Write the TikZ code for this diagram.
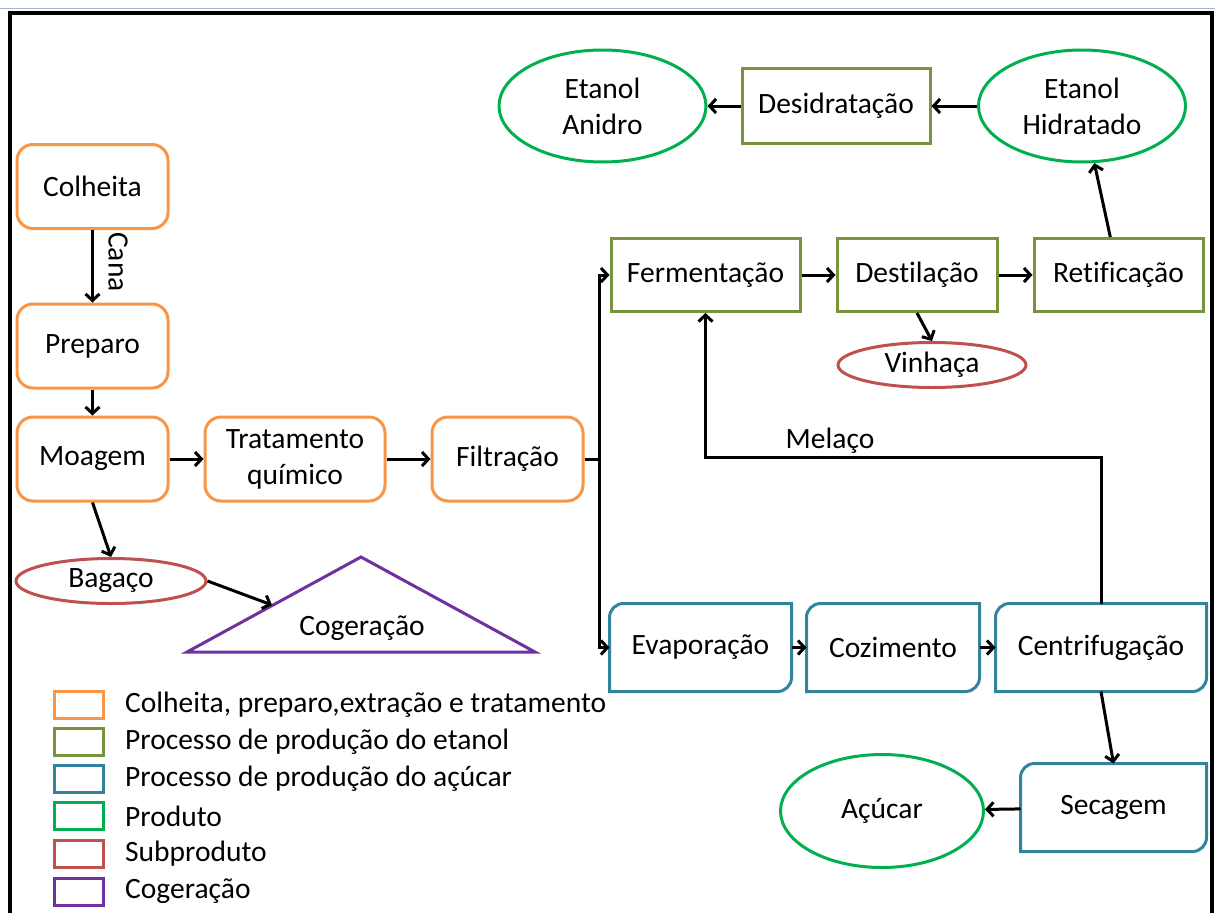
\documentclass[tikz,border=0pt]{standalone}
\usepackage{fontspec}
\setmainfont{Carlito}[Ligatures=NoCommon]
\usetikzlibrary{arrows.meta,shapes.geometric,calc}
\definecolor{cOr}{HTML}{F79646}
\definecolor{cOl}{HTML}{77933C}
\definecolor{cBl}{HTML}{31849B}
\definecolor{cGr}{HTML}{00B050}
\definecolor{cRd}{HTML}{C0504D}
\definecolor{cPu}{HTML}{7030A0}
\definecolor{cTop}{RGB}{165,180,200}
\begin{document}
\begin{tikzpicture}[x=1pt,y=-1pt,
  base/.style={font=\fontsize{29.5}{36}\selectfont, align=center, line width=3pt, inner sep=0pt},
  obox/.style={base, draw=cOr, rounded corners=16pt, minimum width=151pt, minimum height=84pt},
  gbox/.style={base, draw=cOl, minimum height=73pt},
  bbox/.style={base, minimum height=85pt},
  prod/.style={base, ellipse, draw=cGr, minimum width=207pt, minimum height=112pt},
  subp/.style={base, ellipse, draw=cRd, minimum height=45pt},
  lab/.style={font=\fontsize{29.5}{36}\selectfont, inner sep=0pt},
  legbox/.style={draw=#1, line width=3pt, minimum width=49pt, minimum height=27pt, inner sep=0pt},
  arr/.style={-{Straight Barb[length=6.5pt,width=14pt]}, line width=3pt, black},
  conn/.style={line width=3pt, black}
]
\useasboundingbox (0,0) rectangle (1215,913);
\fill[white] (0,0) rectangle (1215,913);
% frame
\draw[cTop, line width=1pt] (0,8) -- (1215,8);
\draw[line width=4pt] (9.5,913) -- (9.5,12.5) -- (1212,12.5) -- (1212,913);

% orange boxes
\node[obox] (colheita) at (92.5,186.5) {Colheita};
\node[obox] (preparo) at (92.5,346) {Preparo};
\node[obox] (moagem) at (92.5,459) {Moagem};
\node[obox, minimum width=180pt] (trat) at (295,459) {Tratamento\\químico};
\node[obox] (filt) at (507.5,459) {Filtração};

% subproducts
\node[subp, minimum width=190pt] (bagaco) at (111,581) {Bagaço};
\node[subp, minimum width=188pt] (vinhaca) at (932,365) {Vinhaça};

% cogeneration triangle
\draw[cPu, line width=3pt] (187,652) -- (361,557) -- (535,652) -- cycle;
\node[lab] (cog) at (362,628) {Cogeração};
\coordinate (cogL) at (272,605);

% green boxes
\node[gbox, minimum width=189pt] (ferm) at (705.5,275) {Fermentação};
\node[gbox, minimum width=160pt] (dest) at (917,275) {Destilação};
\node[gbox, minimum width=169pt] (retif) at (1118.5,275) {Retificação};
\node[gbox, minimum width=188pt, minimum height=75pt] (desid) at (836,106) {Desidratação};

% products
\node[prod] (anidro) at (602.5,106) {Etanol\\Anidro};
\node[prod] (hidr) at (1082,106) {Etanol\\Hidratado};
\node[prod, minimum width=203pt, minimum height=113pt] (acucar) at (882,811) {Açúcar};

% blue boxes
\node[bbox, minimum width=179pt] (evap) at (700.5,647.5) {Evaporação};
\node[bbox, minimum width=170pt] (coz) at (893,647.5) {Cozimento};
\node[bbox, minimum width=208pt] (centrif) at (1101,647.5) {Centrifugação};
\node[bbox, minimum width=183pt] (secagem) at (1113.5,807.5) {Secagem};
\foreach \n in {evap,coz,centrif,secagem}{
  \draw[cBl, line width=3pt] (\n.west) [rounded corners=14pt] |- (\n.north) [sharp corners] -| (\n.east) [rounded corners=14pt] |- (\n.south) [sharp corners] -| (\n.west) -- cycle;
}

% labels
\node[lab, rotate=-90] (cana) at (118,262) {Cana};
\node[lab] (melaco) at (830,441) {Melaço};

% connectors
\draw[arr] (colheita) -- (preparo);
\draw[arr] (preparo) -- (moagem);
\draw[arr] (moagem) -- (trat);
\draw[arr] (trat) -- (filt);
\draw[arr] (moagem.south) -- (bagaco.north);
\draw[arr] (bagaco.east) -- (cogL);
\draw[conn] (filt.east) -- ++(15,0) coordinate (split);
\draw[arr] (split) |- (ferm.west);
\draw[arr] (split) |- (evap.west);
\draw[arr] (ferm) -- (dest);
\draw[arr] (dest) -- (retif);
\draw[arr] (dest.south) -- (vinhaca.north);
\draw[arr] (retif) -- (hidr);
\draw[arr] (hidr) -- (desid);
\draw[arr] (desid) -- (anidro);
\draw[arr] (evap) -- (coz);
\draw[arr] (coz) -- (centrif);
\draw[arr] (centrif.north) -- ++(0,-146) -| (ferm.south);
\draw[arr] (centrif.south) -- (secagem.north);
\draw[arr] (secagem) -- (acucar);

% legend
\node[legbox=cOr] (l1) at (78.5,704.5) {};
\node[legbox=cOl] (l2) at (78.5,741.5) {};
\node[legbox=cBl] (l3) at (78.5,778.5) {};
\node[legbox=cGr] (l4) at (78.5,816) {};
\node[legbox=cRd] (l5) at (78.5,853.5) {};
\node[legbox=cPu] (l6) at (78.5,891.5) {};
\node[lab, anchor=west] (t1) at (125,704.5) {Colheita, preparo,extração e tratamento};
\node[lab, anchor=west] (t2) at (125,741.5) {Processo de produção do etanol};
\node[lab, anchor=west] (t3) at (125,778.5) {Processo de produção do açúcar};
\node[lab, anchor=west] (t4) at (125,816) {Produto};
\node[lab, anchor=west] (t5) at (125,853.5) {Subproduto};
\node[lab, anchor=west] (t6) at (125,891.5) {Cogeração};
\end{tikzpicture}
\end{document}
